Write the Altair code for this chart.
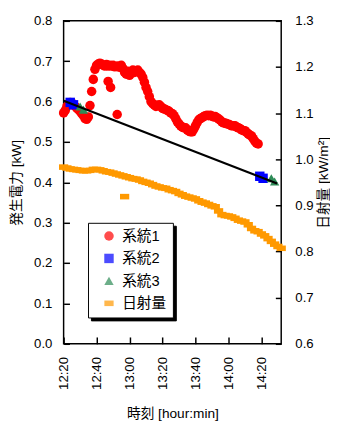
import altair as alt
import pandas as pd

# ---- data ----
series_names = ["系統1", "系統2", "系統3", "日射量"]
series_colors = ["#ff0000", "#0000ff", "#2e8b57", "#ff9900"]

# 系統1: one sample per minute from 12:20
red_minutes = list(range(0, 119))
red_kw = [0.572, 0.578, 0.588, 0.595, 0.598, 0.597, 0.592, 0.588, 0.584, 0.580,
          0.576, 0.570, 0.565, 0.558, 0.556, 0.562, 0.590, 0.625, 0.655, 0.680,
          0.690, 0.693, 0.695, 0.693, 0.690, 0.688, 0.692, 0.688, 0.690, 0.688,
          0.690, 0.686, 0.687, 0.688, 0.685, 0.690, 0.682, 0.672, 0.668, 0.675,
          0.665, 0.670, 0.678, 0.672, 0.675, 0.678, 0.672, 0.668, 0.660, 0.648,
          0.635, 0.625, 0.612, 0.600, 0.595, 0.592, 0.588, 0.590, 0.592, 0.588,
          0.583, 0.582, 0.580, 0.578, 0.576, 0.572, 0.570, 0.565, 0.558, 0.550,
          0.545, 0.540, 0.537, 0.535, 0.535, 0.530, 0.527, 0.525, 0.525, 0.532,
          0.540, 0.548, 0.555, 0.558, 0.560, 0.563, 0.565, 0.566, 0.565, 0.566,
          0.564, 0.562, 0.563, 0.560, 0.557, 0.554, 0.550, 0.547, 0.547, 0.545,
          0.544, 0.542, 0.540, 0.540, 0.540, 0.537, 0.535, 0.533, 0.530, 0.528,
          0.528, 0.524, 0.520, 0.517, 0.515, 0.508, 0.502, 0.497, 0.495]
red_extra_minutes = [27, 28.5, 32.5]
red_extra_kw = [0.650, 0.635, 0.568]

blue_minutes = [4, 6, 119, 121]
blue_kw = [0.598, 0.592, 0.415, 0.410]

green_minutes = [10, 12, 126, 128]
green_kw = [0.588, 0.580, 0.410, 0.402]

fit_minutes = [0, 129.5]
fit_kw = [0.602, 0.397]

# 日射量: one sample every two minutes from 12:20
sun_minutes = list(range(0, 133, 2))
sun_kwm2 = [0.983, 0.981, 0.979, 0.978, 0.977, 0.976, 0.975, 0.975, 0.976, 0.978,
            0.978, 0.977, 0.975, 0.973, 0.972, 0.970, 0.968, 0.966, 0.964, 0.962,
            0.960, 0.958, 0.957, 0.955, 0.952, 0.950, 0.948, 0.945, 0.942, 0.940,
            0.938, 0.937, 0.934, 0.932, 0.930, 0.926, 0.923, 0.920, 0.918, 0.916,
            0.914, 0.910, 0.907, 0.905, 0.902, 0.899, 0.897, 0.888, 0.880, 0.878,
            0.877, 0.875, 0.872, 0.868, 0.866, 0.864, 0.858, 0.850, 0.845, 0.843,
            0.838, 0.834, 0.828, 0.822, 0.816, 0.811, 0.807]
sun_extra_minutes = [37]
sun_extra_kwm2 = [0.919]

tick_labels = ["12:20", "12:40", "13:00", "13:20", "13:40", "14:00", "14:20"]
x_end = "14:32"
left_ticks = [0.0, 0.1, 0.2, 0.3, 0.4, 0.5, 0.6, 0.7, 0.8]
right_ticks = [0.6, 0.7, 0.8, 0.9, 1.0, 1.1, 1.2, 1.3]

# ---- tables ----
base_day = pd.Timestamp("2024-01-01 12:20")


def to_time(mins):
    return [base_day + pd.Timedelta(minutes=m) for m in mins]


def dt(hhmm):
    h, m = hhmm.split(":")
    return alt.DateTime(year=2024, month=1, date=1, hours=int(h), minutes=int(m))


ZW = "\u200b"  # invisible suffix so the shadow legend is not merged with the main one
shadow_names = [n + ZW for n in series_names]

power = pd.concat([
    pd.DataFrame({"time": to_time(red_minutes + red_extra_minutes),
                  "kw": red_kw + red_extra_kw, "series": "系統1"}),
    pd.DataFrame({"time": to_time(blue_minutes), "kw": blue_kw, "series": "系統2"}),
    pd.DataFrame({"time": to_time(green_minutes), "kw": green_kw, "series": "系統3"}),
])
power["shadow"] = power["series"] + ZW
fit = pd.DataFrame({"time": to_time(fit_minutes), "kw": fit_kw})
sun = pd.DataFrame({"time": to_time(sun_minutes + sun_extra_minutes),
                    "val": sun_kwm2 + sun_extra_kwm2, "series": "日射量"})

FONT = "Liberation Sans, Noto Sans CJK JP"
dash_path = "M-1,-0.6L1,-0.6L1,0.6L-1,0.6Z"

x_enc = alt.X(
    "time:T",
    scale=alt.Scale(domain=[dt(tick_labels[0]), dt(x_end)], nice=False),
    axis=alt.Axis(values=[dt(t) for t in tick_labels], format="%H:%M",
                  title="時刻 [hour:min]", labelAngle=270, labelAlign="right",
                  labelBaseline="middle", offset=-7, tickSize=7, tickWidth=1.5,
                  tickColor="black", domain=False, grid=False, labelPadding=13,
                  labelFontSize=13.5, titleFontSize=14, titlePadding=18,
                  labelColor="black", titleColor="black", titleFontWeight="normal"),
)

LX, LY = 25, 207
common_leg = dict(title=None, orient="none", padding=6, symbolOffset=8,
                  labelFontSize=15, symbolSize=30, rowPadding=7)
legend = alt.Legend(legendX=LX, legendY=LY, fillColor="white", strokeColor="black",
                    labelColor="black", symbolStrokeWidth=0, labelOffset=6, zindex=3,
                    **common_leg)
# black drop shadow behind the legend box (labels blanked, width kept by labelOffset)
shadow_legend = alt.Legend(legendX=LX + 3, legendY=LY + 3, fillColor="black",
                           strokeColor="black", labelColor="black",
                           symbolFillColor="black", symbolStrokeColor="black",
                           labelExpr="'" + ZW + "'", labelOffset=52, zindex=2,
                           **common_leg)

color_enc = alt.Color("series:N", scale=alt.Scale(domain=series_names, range=series_colors),
                      legend=legend)
shape_enc = alt.Shape("series:N",
                      scale=alt.Scale(domain=series_names,
                                      range=["circle", "square", "triangle-up", dash_path]),
                      legend=legend)
size_enc = alt.Size("series:N",
                    scale=alt.Scale(domain=series_names, range=[95, 90, 95, 64]),
                    legend=None)

y_left = alt.Y(
    "kw:Q",
    scale=alt.Scale(domain=[0, 0.8], nice=False),
    axis=alt.Axis(orient="left", values=left_ticks, format=".1f", title="発生電力 [kW]",
                  offset=-6, tickSize=6, tickWidth=1.5, tickColor="black",
                  domain=False, grid=False, labelPadding=12, labelFontSize=13.5,
                  titleFontSize=14, titlePadding=10, labelColor="black",
                  titleColor="black", titleFontWeight="normal"),
)

pts = alt.Chart(power).mark_point(filled=True).encode(
    x=x_enc, y=y_left, color=color_enc, shape=shape_enc, size=size_enc,
    opacity=alt.Opacity("shadow:N", scale=alt.Scale(domain=shadow_names, range=[1, 1, 1, 1]),
                        legend=shadow_legend))
line = alt.Chart(fit).mark_line(color="black", strokeWidth=2.2).encode(
    x=x_enc, y=alt.Y("kw:Q"))
left_layer = alt.layer(pts, line)

sun_layer = alt.Chart(sun).mark_point(filled=True, opacity=1).encode(
    x=x_enc,
    y=alt.Y("val:Q", scale=alt.Scale(domain=[0.6, 1.3], nice=False),
            axis=alt.Axis(orient="right", values=right_ticks, format=".1f",
                          title="日射量 [kW/m²]", titleAngle=270,
                          offset=-6, tickSize=6, tickWidth=1.5, tickColor="black",
                          domain=False, grid=False, labelPadding=14, labelFontSize=13.5,
                          titleFontSize=14, titlePadding=18, labelColor="black",
                          titleColor="black", titleFontWeight="normal")),
    color=color_enc, shape=shape_enc, size=size_enc,
)

chart = alt.layer(left_layer, sun_layer).resolve_scale(y="independent").properties(
    width=223, height=331,
    autosize=alt.AutoSizeParams(type="none"),
    padding={"left": 57, "top": 8, "right": 50, "bottom": 76},
).configure(font=FONT).configure_view(stroke="black", strokeWidth=1.5)

chart.save("out.html", embed_options={"renderer": "svg", "actions": False})
